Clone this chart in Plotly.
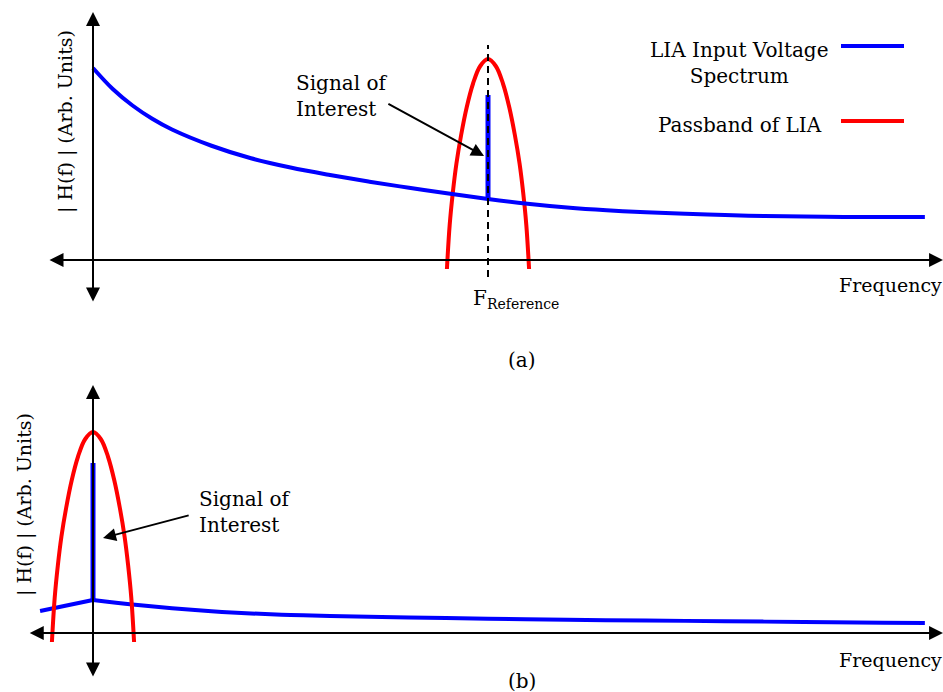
import plotly.graph_objects as go

W, H = 943, 692
FONT = "DejaVu Serif"

# ---- data (arbitrary frequency / magnitude units) ----
F_REF = 5.0

# (a) LIA input voltage spectrum: 1/f-like roll-off
spec_a_freq = [0, 0.25, 0.5, 0.75, 1.0, 1.5, 2.0, 2.5, 3.0, 3.5, 4.0, 4.5, 5.0, 5.5, 6.0, 6.5,
               7.0, 7.5, 8.0, 8.5, 9.0, 9.5, 10.0, 10.53]
spec_a_mag = [7.68, 6.84, 6.18, 5.65, 5.22, 4.57, 4.07, 3.70, 3.40, 3.13, 2.89, 2.66, 2.44, 2.25,
              2.10, 1.99, 1.91, 1.85, 1.80, 1.76, 1.74, 1.72, 1.72, 1.72]
signal_a_mag = [2.44, 6.6]

# (b) spectrum after demodulation (shifted to DC)
spec_b_left_freq = [-0.67, 0]
spec_b_left_mag = [0.88, 1.32]
spec_b_freq = [0, 0.5, 1.0, 1.5, 2.0, 2.5, 3.0, 4.0, 5.0, 6.0, 7.0, 8.0, 9.0, 10.0, 10.53]
spec_b_mag = [1.32, 1.14, 0.99, 0.87, 0.78, 0.72, 0.68, 0.62, 0.57, 0.53, 0.50, 0.47, 0.44, 0.41, 0.40]
signal_b_mag = [1.32, 6.8]

# LIA passband shape, offsets relative to centre frequency
pass_offset = [-0.52, -0.485, -0.445, -0.40, -0.34, -0.27, -0.19, -0.10, 0,
               0.10, 0.19, 0.27, 0.34, 0.40, 0.445, 0.485, 0.52]
pass_gain = [-0.36, 1.4, 2.7, 3.85, 5.0, 6.1, 7.05, 7.75, 8.04,
             7.75, 7.05, 6.1, 5.0, 3.85, 2.7, 1.4, -0.36]

BLUE = "#0000ff"
RED = "#ff0000"

fig = go.Figure()

# ---- panel (a) ----
fig.add_trace(go.Scatter(x=[F_REF + d for d in pass_offset], y=pass_gain, mode="lines",
                         line=dict(color=RED, width=4, shape="spline"), xaxis="x", yaxis="y"))
fig.add_trace(go.Scatter(x=spec_a_freq, y=spec_a_mag, mode="lines",
                         line=dict(color=BLUE, width=4, shape="spline"), xaxis="x", yaxis="y"))
fig.add_trace(go.Scatter(x=[F_REF, F_REF], y=signal_a_mag, mode="lines",
                         line=dict(color=BLUE, width=5), xaxis="x", yaxis="y"))
fig.add_trace(go.Scatter(x=[F_REF, F_REF], y=[-0.68, 8.6], mode="lines",
                         line=dict(color="black", width=2, dash="7px,5px"), xaxis="x", yaxis="y"))

# ---- panel (b) ----
fig.add_trace(go.Scatter(x=spec_b_left_freq, y=spec_b_left_mag, mode="lines",
                         line=dict(color=BLUE, width=4), xaxis="x2", yaxis="y2"))
fig.add_trace(go.Scatter(x=spec_b_freq, y=spec_b_mag, mode="lines",
                         line=dict(color=BLUE, width=4, shape="spline"), xaxis="x2", yaxis="y2"))
fig.add_trace(go.Scatter(x=[0, 0], y=signal_b_mag, mode="lines",
                         line=dict(color=BLUE, width=5), xaxis="x2", yaxis="y2"))
fig.add_trace(go.Scatter(x=pass_offset, y=pass_gain, mode="lines",
                         line=dict(color=RED, width=4, shape="spline"), xaxis="x2", yaxis="y2"))


def double_arrow(x0, y0, x1, y1, xr, yr):
    fig.add_annotation(x=x1, y=y1, ax=x0, ay=y0, xref=xr, yref=yr, axref=xr, ayref=yr,
                       text="", showarrow=True, arrowhead=2, arrowsize=1.4, arrowwidth=2,
                       startarrowhead=2, startarrowsize=1.4, arrowside="end+start",
                       arrowcolor="black", standoff=0, startstandoff=0)


# coordinate axes with arrow heads
double_arrow(-0.57, 0, 10.76, 0, "x", "y")
double_arrow(0, -1.72, 0, 9.92, "x", "y")
double_arrow(-0.82, 0, 10.76, 0, "x2", "y2")
double_arrow(0, -1.8, 0, 9.92, "x2", "y2")

# pointer arrows to the signal of interest
fig.add_annotation(x=4.95, y=4.16, ax=3.72, ay=6.28, xref="x", yref="y", axref="x", ayref="y",
                   text="", showarrow=True, arrowhead=2, arrowsize=1.3, arrowwidth=2,
                   arrowcolor="black", standoff=0)
fig.add_annotation(x=0.127, y=3.8, ax=1.23, ay=4.72, xref="x2", yref="y2", axref="x2", ayref="y2",
                   text="", showarrow=True, arrowhead=2, arrowsize=1.3, arrowwidth=2,
                   arrowcolor="black", standoff=0)


def px(x):
    return x / W


def py(y):
    return 1 - y / H


def label(text, x, y, xanchor="center", yanchor="middle", angle=0, align="center", size=20):
    fig.add_annotation(x=px(x), y=py(y), xref="paper", yref="paper", text=text, showarrow=False,
                       xanchor=xanchor, yanchor=yanchor, textangle=angle, align=align,
                       font=dict(family=FONT, size=size, color="black"))


label("Signal of<br>Interest", 294, 96, xanchor="left", align="left")
label("Signal of<br>Interest", 197, 512, xanchor="left", align="left")
label("| H(f) | (Arb. Units)", 66, 122, angle=-90, size=19)
label("| H(f) | (Arb. Units)", 24, 505, angle=-90, size=19)
label("Frequency", 944, 285, xanchor="right", size=19)
label("Frequency", 944, 660, xanchor="right", size=19)
label("F<sub>Reference</sub>", 471, 299, xanchor="left")
label("(a)", 522, 360)
label("(b)", 522, 681)

# legend
label("LIA Input Voltage<br>Spectrum", 739, 63)
label("Passband of LIA", 740, 125)
fig.add_shape(type="line", xref="paper", yref="paper", x0=px(841), x1=px(904), y0=py(46), y1=py(46),
              line=dict(color=BLUE, width=4))
fig.add_shape(type="line", xref="paper", yref="paper", x0=px(841), x1=px(904), y0=py(121), y1=py(121),
              line=dict(color=RED, width=4))

hidden = dict(visible=False, showgrid=False, zeroline=False, fixedrange=True)
fig.update_layout(
    width=W, height=H,
    margin=dict(l=0, r=0, t=0, b=0),
    paper_bgcolor="white", plot_bgcolor="white",
    showlegend=False,
    xaxis=dict(domain=[0, 1], range=[-93 / 79, 850 / 79], anchor="y", **hidden),
    yaxis=dict(domain=[0.5, 1], range=[-3.44, 10.4], anchor="x", **hidden),
    xaxis2=dict(domain=[0, 1], range=[-93 / 79, 850 / 79], anchor="y2", **hidden),
    yaxis2=dict(domain=[0, 0.5], range=[-2.36, 11.48], anchor="x2", **hidden),
)

fig.write_html("out.html")
